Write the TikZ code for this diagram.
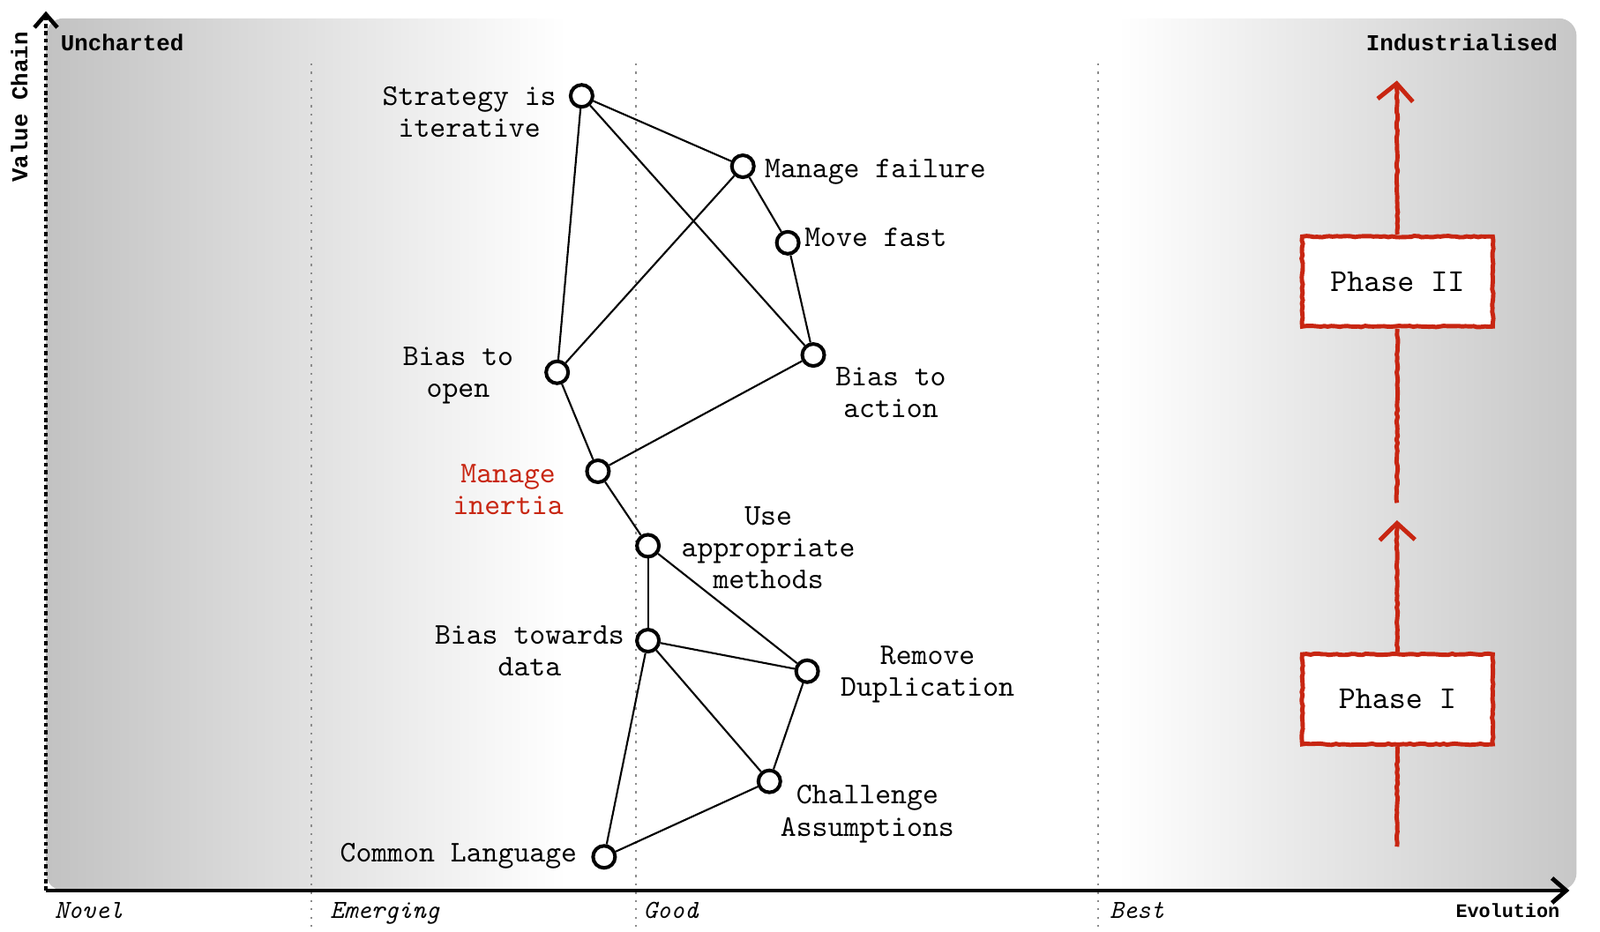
\documentclass[tikz,border=0pt]{standalone}
\usepackage{fontspec}
\newfontfamily\headmono{Liberation Mono}
\usetikzlibrary{arrows.meta,decorations.pathmorphing}
\definecolor{wred}{RGB}{200,38,18}
\pgfdeclarehorizontalshading{stagebg}{100bp}{color(0bp)=(black!24); color(25bp)=(black!24); color(42bp)=(white); color(60bp)=(white); color(75bp)=(black!22); color(100bp)=(black!22)}
\tikzset{
  comp/.style={circle, draw, line width=1.15pt, fill=white, inner sep=0pt, minimum size=2.5mm},
  link/.style={line width=0.6pt},
  txt/.style={align=center, inner sep=0pt, font=\fontsize{9.7}{10.3}\ttfamily},
  stage/.style={inner sep=0pt, font=\fontsize{8.4}{9}\ttfamily\itshape},
  corner/.style={inner sep=0pt, font=\fontsize{7.35}{9}\headmono\bfseries},
  pencil/.style={wred, line width=1.4pt, line join=round, decorate,
    decoration={random steps, segment length=1.2pt, amplitude=0.22pt}},
  phase/.style={draw=wred, fill=white, line width=1.4pt, minimum width=21.6mm, minimum height=10.2mm,
    font=\fontsize{10.3}{11}\ttfamily, decorate,
    decoration={random steps, segment length=1.2pt, amplitude=0.22pt}}
}
\begin{document}
\begin{tikzpicture}[x=0.1157mm, y=-0.1157mm]
    \useasboundingbox (0,0) rectangle (1568,913);
    \shade[shading=stagebg, rounded corners=2mm] (45,18) rectangle (1545,873);

    % stages of evolution
    \foreach \x in {305,623,1076}
        \draw[black!45, dotted, line width=0.7pt] (\x,62) -- (\x,910);

    \coordinate (o) at (45,873);
    \coordinate (ytop) at (45,11);
    \coordinate (xend) at (1538,873);
    \draw[line width=1.1pt, dash pattern=on 1.3pt off 1.1pt, -{Straight Barb[length=1.5mm, width=2.6mm, line width=1.3pt]}] (o) -- (ytop);
    \draw[line width=1.4pt, -{Straight Barb[length=1.6mm, width=2.8mm]}] (o) -- (xend);

    \node[stage, anchor=base west] (novel) at (53,900) {Novel};
    \node[stage, anchor=base west] (emerging) at (323,900) {Emerging};
    \node[stage, anchor=base west] (good) at (630,900) {Good};
    \node[stage, anchor=base west] (best) at (1087,900) {Best};
    \node[corner, anchor=base east, font=\fontsize{6.2}{8}\headmono\bfseries] (evolution) at (1529,899) {Evolution};
    \node[corner, anchor=base west] (uncharted) at (59,50) {Uncharted};
    \node[corner, anchor=base east] (industrial) at (1527,50) {Industrialised};
    \node[corner, rotate=90] (valuechain) at (19,105) {Value Chain};

    % components
    \node[comp] (strategy) at (570,94) {};
    \node[comp] (failure) at (728,163) {};
    \node[comp] (fast) at (772,238) {};
    \node[comp] (action) at (797,348) {};
    \node[comp] (open) at (546,365) {};
    \node[comp] (inertia) at (586,462) {};
    \node[comp] (methods) at (635,535) {};
    \node[comp] (data) at (635,628) {};
    \node[comp] (dupl) at (791,658) {};
    \node[comp] (assume) at (754,766) {};
    \node[comp] (lang) at (592,840) {};

    \node[txt] (lstrategy) at (460,110) {Strategy is\\iterative};
    \node[txt, anchor=base west] (lfailure) at (749,174) {Manage failure};
    \node[txt, anchor=base west] (lfast) at (788,242) {Move fast};
    \node[txt] (laction) at (873,385) {Bias to\\action};
    \node[txt] (lopen) at (449,368) {Bias to\\open};
    \node[txt, text=wred] (linertia) at (498,480) {Manage\\inertia};
    \node[txt] (lmethods) at (753,537) {Use\\appropriate\\methods};
    \node[txt] (ldata) at (519,638) {Bias towards\\data};
    \node[txt] (ldupl) at (909,661) {Remove\\Duplication};
    \node[txt] (lassume) at (850,798) {Challenge\\Assumptions};
    \node[txt, anchor=base east] (llang) at (566,845) {Common Language};

    \draw[link] (strategy) -- (failure);
    \draw[link] (strategy) -- (action);
    \draw[link] (strategy) -- (open);
    \draw[link] (failure) -- (fast);
    \draw[link] (failure) -- (open);
    \draw[link] (fast) -- (action);
    \draw[link] (open) -- (inertia);
    \draw[link] (action) -- (inertia);
    \draw[link] (inertia) -- (methods);
    \draw[link] (methods) -- (data);
    \draw[link] (methods) -- (dupl);
    \draw[link] (data) -- (dupl);
    \draw[link] (data) -- (assume);
    \draw[link] (data) -- (lang);
    \draw[link] (dupl) -- (assume);
    \draw[link] (assume) -- (lang);

    % phases
    \node[phase] (phase1) at (1369.5,685.5) {Phase I};
    \node[phase] (phase2) at (1369.5,276) {Phase II};
    \coordinate (p1from) at (1369,830);
    \coordinate (p1to) at (1369,510);
    \coordinate (p2from) at (1369,493);
    \coordinate (p2to) at (1369,79);
    \draw[pencil] (p1from) -- (phase1);
    \draw[pencil, -{Straight Barb[length=1.9mm, width=4mm, line width=1.4pt]}] (phase1) -- (p1to);
    \draw[pencil] (p2from) -- (phase2);
    \draw[pencil, -{Straight Barb[length=1.9mm, width=4mm, line width=1.4pt]}] (phase2) -- (p2to);
\end{tikzpicture}
\end{document}
